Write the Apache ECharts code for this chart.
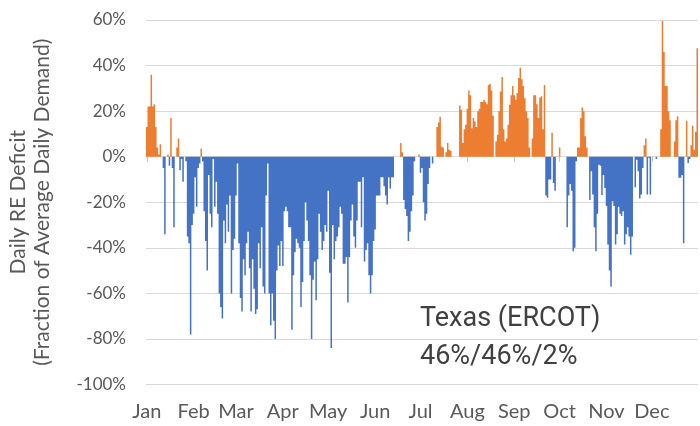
<!DOCTYPE html>
<html><head><meta charset="utf-8">
<script src="https://cdn.jsdelivr.net/npm/echarts@6.0.0/dist/echarts.min.js"></script>
<style>html,body{margin:0;padding:0;background:#fff}#c{width:700px;height:426px}</style>
</head><body><div id="c"></div>
<script>
// Daily RE deficit (% of average daily demand), one value per day
const jan = [13,22,22,36,22,23,13,4,1,5.5,0,-5,-34,0,1,-4,17,-5,-31,0,4,8,-6,-1,-11,0,-2,-35,-38,-78,-30];
const feb = [-25,-9,-22,-5,-3,3.5,-2,-24,-37,-50,-8,-25,-31,-1,-22,-11,-25,-60,-66,-71,-28,-38,-21,-33,-17,-60,-41,-36];
const mar = [-17,-3,-38,-62,-68,-45,-52,-38,-33,-49,-68,-45,-58,-69,-67,-38,-49,-31,-57,-60,-17,-3,-60,-74,-60,-72,-80,-50,-39,-48,-37];
const apr = [-48,-24,-22,-24,-31,-31,-76,-52,-42,-36,-38,-40,-66,-55,-37,-20,-28,-37,-52,-80,-54,-46,-63,-45,-25,-33,-41,-37,-30,-33];
const may = [-15,-51,-84,-30,-45,-37,-35,-31,-22,-25,-47,-47,-44,-64,-44,-28,-21,-35,-40,-28,-11,-11,-31,-9,-46,-41,-38,-52,-60,-52,-37];
const jun = [-32,-17,-17,-17,-9,-9,-13,-17,-21,-9,-14,-9,-9,0,0,0,0,6,2,-19,-23,-26,-37,-33,-24,-17,-2,0,0,1];
const jul = [-7,-5,-20,-28,-25,-12,-5,0,-3,0,0,13,15,17.5,4.5,4,0,2,6,3,2.6,0,0,0,0,0,22.5,20.6,6,12,14];
const aug = [21,29,27,12.5,17,15.5,13,20,21,24,24,25,24,23,31.5,32,29,18,0,6.7,9.6,20,28.6,35,12,6.7,8,14,22.8,27,31];
const sep = [27,25,28,34.5,39,34,31,25.7,20,17,4,0,8,27,27,23,17,26,26.5,12,31.5,-17,-18,-10,-10,10.5,-11.5,-15,0,0];
const oct = [4,0,0,0,0,-31,-17,-12,-15,-41.5,-40,-2,4,4,17,21.6,20,9,4,0,-19,-6.4,-16.6,-31,-41.5,-25,-3.5,-4,-16.8,-8,-13.7];
const nov = [-21.6,-38.5,-50,-57,-19.6,-21.7,-38.5,-34,-22,-25,-26,-24,-38.5,-34,-31,-35,-43,-35,0,-13.4,-1.3,-6.4,-18.4,-16.6,-5,5,8,-16.6,-0.5,-16.6];
const dec = [0,0,0,-1,0,0,12,59.6,46,31,31,20,16,0,0,6.7,16,17.7,-9.3,-9.3,-8,-38,0,15.8,-2.8,-1,5,13.6,3,11,47.6];

const monthNames = ['Jan','Feb','Mar','Apr','May','Jun','Jul','Aug','Sep','Oct','Nov','Dec'];
const yTickValues = [-100,-80,-60,-40,-20,0,20,40,60];
const annotation = ['Texas (ERCOT)', '46%/46%/2%'];

const months = [jan,feb,mar,apr,may,jun,jul,aug,sep,oct,nov,dec];
const values = [];
const days = [];
const monthStart = {};
months.forEach((m, mi) => {
  monthStart[values.length] = monthNames[mi];
  m.forEach((v, di) => { values.push(v); days.push(monthNames[mi] + ' ' + (di + 1)); });
});
const surplus = values.map(v => v > 0 ? v : 0);
const deficit = values.map(v => v < 0 ? v : 0);

const chart = echarts.init(document.getElementById('c'), null, {renderer: 'canvas'});
const gray = '#595959';
const ORANGE = '#ED7D31', BLUE = '#4472C4';
chart.setOption({
  animation: false,
  backgroundColor: '#ffffff',
  grid: {left: 146, top: 20, width: 552, height: 364.5, containLabel: false, outerBoundsMode: 'none'},
  xAxis: [{
    type: 'category', data: days, position: 'bottom',
    axisLine: {show: true, onZero: true, lineStyle: {color: '#d9d9d9'}},
    axisTick: {show: true, alignWithLabel: true, length: 5, interval: (i) => i in monthStart, lineStyle: {color: '#bfbfbf'}},
    axisLabel: {show: false},
    splitLine: {show: false}
  }, {
    type: 'category', data: days, position: 'bottom',
    axisLine: {show: false, onZero: false},
    axisTick: {show: false},
    axisLabel: {
      show: true, interval: (i) => i in monthStart,
      formatter: (v, i) => monthStart[i] || '',
      color: gray, fontFamily: 'Lato', fontSize: 20, margin: 17
    },
    splitLine: {show: false}
  }],
  yAxis: {
    type: 'value', min: yTickValues[0], max: yTickValues[yTickValues.length - 1], interval: 20,
    axisLine: {show: false}, axisTick: {show: false},
    axisLabel: {formatter: '{value}%', color: gray, fontFamily: 'Lato', fontSize: 17, margin: 20},
    splitLine: {lineStyle: {color: '#d9d9d9', width: 1}},
    name: 'Daily RE Deficit\n(Fraction of Average Daily Demand)',
    nameLocation: 'middle', nameRotate: 90, nameGap: 92,
    nameTextStyle: {color: gray, fontFamily: 'Lato', fontSize: 21, lineHeight: 24}
  },
  series: [{
    name: 'Surplus', type: 'bar', xAxisIndex: 0, data: surplus,
    large: true, largeThreshold: 50,
    barCategoryGap: '0%', barGap: '-100%',
    itemStyle: {color: ORANGE}
  }, {
    name: 'Deficit', type: 'bar', xAxisIndex: 0, data: deficit,
    large: true, largeThreshold: 50,
    barCategoryGap: '0%', barGap: '-100%',
    itemStyle: {color: BLUE}
  }],
  graphic: [{
    type: 'group', z: 10,
    children: [
      {type: 'rect', shape: {x: 419, y: 298, width: 244, height: 80}, style: {fill: '#ffffff'}},
      {type: 'text', x: 420, y: 300, style: {text: annotation.join('\n'), font: '27px Roboto', lineHeight: 38, fill: '#404040', textVerticalAlign: 'top'}}
    ]
  }]
});
</script></body></html>
